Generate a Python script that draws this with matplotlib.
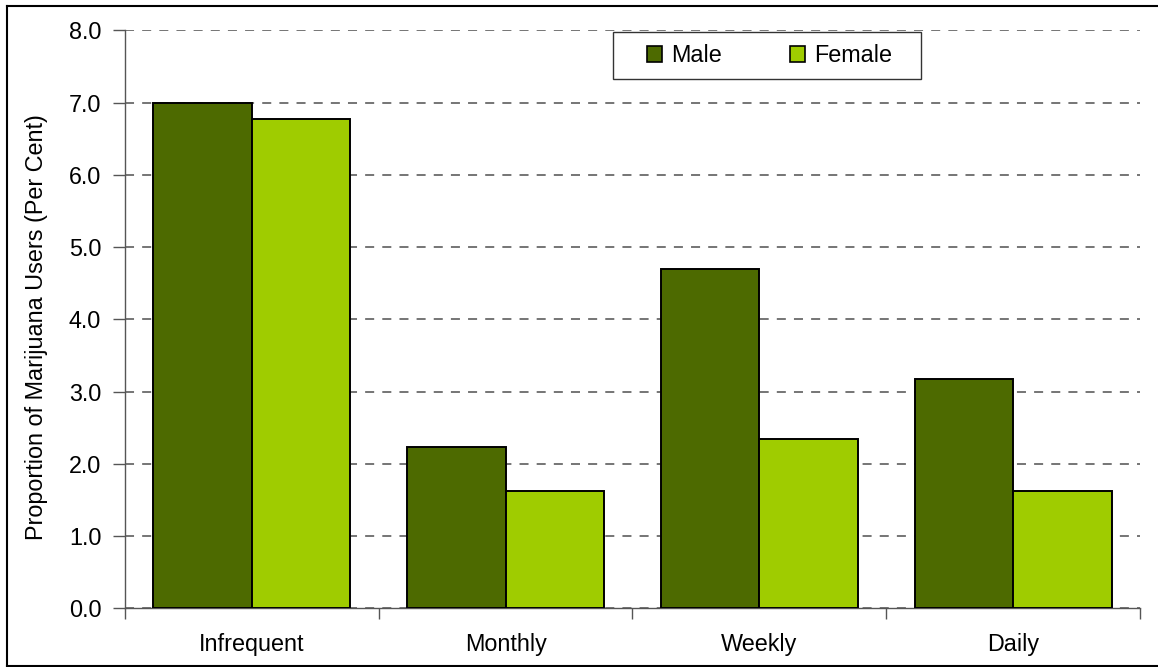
import matplotlib
matplotlib.use("Agg")
import matplotlib.pyplot as plt
import numpy as np
from matplotlib.lines import Line2D
from matplotlib.patches import Rectangle

plt.rcParams['font.family'] = ['Liberation Sans', 'DejaVu Sans']

categories = ["Infrequent", "Monthly", "Weekly", "Daily"]
male = [7.0, 2.24, 4.70, 3.18]
female = [6.77, 1.63, 2.34, 1.63]
yticks = [0.0, 1.0, 2.0, 3.0, 4.0, 5.0, 6.0, 7.0, 8.0]

male_col = "#4d6a00"
female_col = "#9fcc00"
fs = 16.8

fig = plt.figure(figsize=(11.58, 6.67), dpi=100)
ax = fig.add_axes([0.1079, 0.0879, 0.8766, 0.8665])

x = np.arange(len(categories))
w = 0.388
ax.bar(x - w / 2, male, w, color=male_col, edgecolor="black", linewidth=1.4, label="Male", zorder=3)
ax.bar(x + w / 2, female, w, color=female_col, edgecolor="black", linewidth=1.4, label="Female", zorder=3)

ax.set_xlim(-0.5, len(categories) - 0.5)
ax.set_ylim(0, 8)
ax.set_yticks(yticks)
ax.set_yticklabels(["%.1f" % v for v in yticks], fontsize=fs)
ax.set_xticks(x)
ax.set_xticklabels(categories, fontsize=fs)
ax.set_xticks(np.arange(len(categories) + 1) - 0.5, minor=True)
ax.tick_params(axis="x", which="major", length=0, pad=18)
ax.tick_params(axis="x", which="minor", length=8, width=1, color="#555555")
ax.tick_params(axis="y", length=9, width=1, color="#555555", pad=8)

ax.yaxis.grid(True, linestyle=(0, (5, 4.5)), color="#6a6a6a", linewidth=1.3, zorder=0)
ax.set_axisbelow(True)
for s in ["top", "right"]:
    ax.spines[s].set_visible(False)
for s in ["left", "bottom"]:
    ax.spines[s].set_color("#555555")
    ax.spines[s].set_linewidth(1)

ax.set_ylabel("Proportion of Marijuana Users (Per Cent)", fontsize=fs)
ax.yaxis.set_label_coords(-0.076, 0.487)

# legend box drawn by hand, entries placed inside it
ax.add_patch(Rectangle((0.4806, 0.916), 0.3033, 0.081, transform=ax.transAxes, facecolor="white",
                       edgecolor="#333333", linewidth=1, zorder=5, clip_on=False))
leg = ax.legend(loc="center", bbox_to_anchor=(0.635, 0.9565), ncol=2, fontsize=fs, frameon=False,
                handlelength=0.65, handleheight=0.65, handletextpad=0.4, columnspacing=2.9,
                borderpad=0, borderaxespad=0)
leg.set_zorder(6)
for h in leg.legend_handles:
    h.set_linewidth(1.2)

# outer border of the chart area
fig.add_artist(Line2D([7 / 1158, 7 / 1158], [0.5 / 667, 1 - 6 / 667], transform=fig.transFigure, color="black", lw=1.5))
fig.add_artist(Line2D([7 / 1158, 1.0], [1 - 6 / 667, 1 - 6 / 667], transform=fig.transFigure, color="black", lw=1.5))
fig.add_artist(Line2D([7 / 1158, 1.0], [0.8 / 667, 0.8 / 667], transform=fig.transFigure, color="black", lw=1.5))

fig.savefig("out.png", dpi=100)
